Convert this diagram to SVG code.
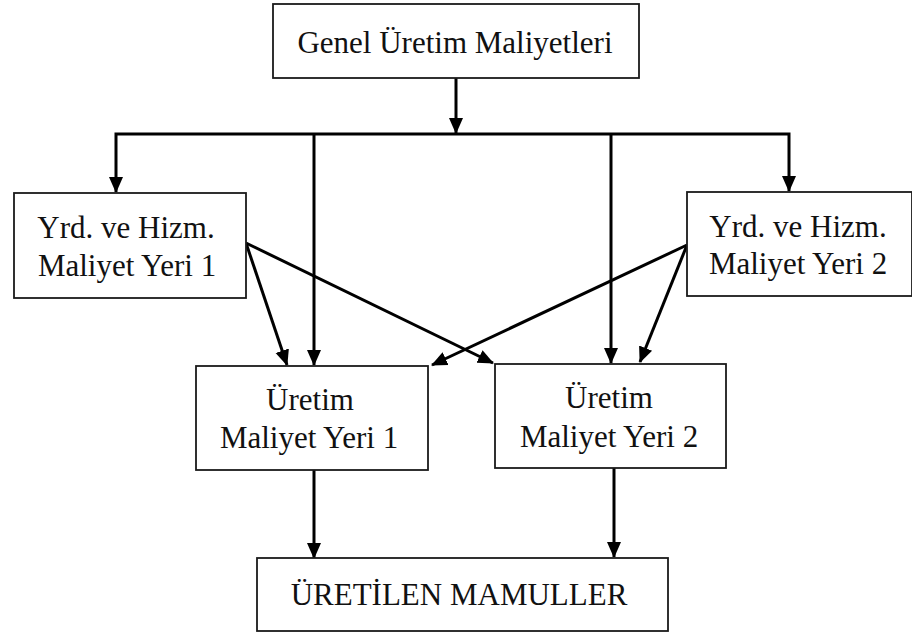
<svg xmlns="http://www.w3.org/2000/svg" width="912" height="637" viewBox="0 0 912 637">
  <defs>
    <style>
      .box { fill: #ffffff; stroke: #1a1a1a; stroke-width: 1.8; }
      .lbl { font-family: 'Liberation Serif', 'DejaVu Serif', serif; font-size: 31px; fill: #111111; text-anchor: middle; }
      .con { fill: none; stroke: #000000; stroke-width: 3; stroke-linejoin: miter; marker-end: url(#ah); }
    </style>
    <marker id="ah" markerUnits="userSpaceOnUse" markerWidth="16" markerHeight="16" viewBox="0 0 16 14" refX="15" refY="7" orient="auto">
      <path d="M0,0 L16,7 L0,14 z" fill="#000000"/>
    </marker>
  </defs>
  <rect width="912" height="637" fill="#ffffff"/>

  <g id="connectors">
    <path class="con" d="M456,78 L456,133"/>
    <path class="con" d="M456,134 L116,134 L116,192"/>
    <path class="con" d="M456,134 L789,134 L789,191"/>
    <path class="con" d="M314,134 L314,365"/>
    <path class="con" d="M611,134 L611,363"/>
    <path class="con" d="M246,243 L287,365"/>
    <path class="con" d="M246,243 L493,363"/>
    <path class="con" d="M687,245 L432,365"/>
    <path class="con" d="M687,245 L640,362"/>
    <path class="con" d="M314,470 L314,558"/>
    <path class="con" d="M614,468 L614,557"/>
  </g>

  <g id="genel">
    <rect class="box" x="273" y="4" width="366" height="74"/>
    <text class="lbl" x="455" y="53">Genel Üretim Maliyetleri</text>
  </g>

  <g id="yrd1">
    <rect class="box" x="14" y="193" width="232" height="105"/>
    <text class="lbl" x="126" y="238">Yrd. ve Hizm.</text>
    <text class="lbl" x="127" y="276">Maliyet Yeri 1</text>
  </g>

  <g id="yrd2">
    <rect class="box" x="687" y="192" width="225" height="104"/>
    <text class="lbl" x="798" y="237">Yrd. ve Hizm.</text>
    <text class="lbl" x="798" y="274">Maliyet Yeri 2</text>
  </g>

  <g id="uretim1">
    <rect class="box" x="196" y="366" width="232" height="104"/>
    <text class="lbl" x="310" y="410">Üretim</text>
    <text class="lbl" x="309" y="448">Maliyet Yeri 1</text>
  </g>

  <g id="uretim2">
    <rect class="box" x="495" y="364" width="231" height="104"/>
    <text class="lbl" x="609" y="408">Üretim</text>
    <text class="lbl" x="609" y="447">Maliyet Yeri 2</text>
  </g>

  <g id="mamuller">
    <rect class="box" x="257" y="558" width="411" height="73"/>
    <text class="lbl" x="459" y="605">ÜRETİLEN MAMULLER</text>
  </g>
</svg>
